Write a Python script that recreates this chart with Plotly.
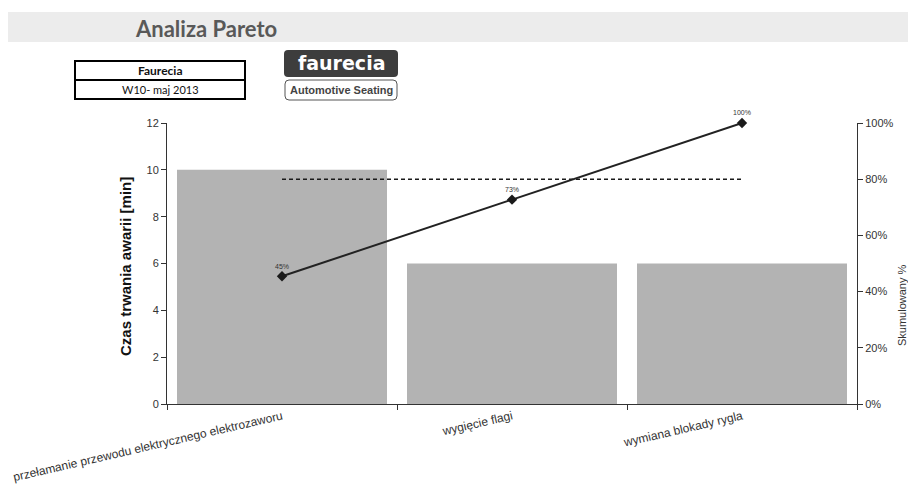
import plotly.graph_objects as go

# ---- data ----
categories = ["przełamanie przewodu elektrycznego elektrozaworu", "wygięcie flagi", "wymiana blokady rygla"]
durations = [10, 6, 6]
cum_pct = [0.4545, 0.7273, 1.0]
cum_labels = ["45%", "73%", "100%"]
threshold = [0.8, 0.8, 0.8]
y_ticks = [0, 2, 4, 6, 8, 10, 12]
y2_ticks = [0, 0.2, 0.4, 0.6, 0.8, 1.0]

W, H = 908, 498
L, R, T, B = 167, 857, 123, 404


def px(x):
    return (x - L) / (R - L)


def py(y):
    return (B - y) / (B - T)


def rrect(x0, y0, x1, y1, r):
    rx = r / (R - L)
    ry = r / (B - T)
    X0, X1 = px(x0), px(x1)
    Y0, Y1 = py(y0), py(y1)  # Y0 top (higher), Y1 bottom
    return (f"M {X0+rx},{Y0} L {X1-rx},{Y0} Q {X1},{Y0} {X1},{Y0-ry} "
            f"L {X1},{Y1+ry} Q {X1},{Y1} {X1-rx},{Y1} L {X0+rx},{Y1} "
            f"Q {X0},{Y1} {X0},{Y1+ry} L {X0},{Y0-ry} Q {X0},{Y0} {X0+rx},{Y0} Z")


fig = go.Figure()
fig.add_trace(go.Bar(x=categories, y=durations, marker=dict(color="#b3b3b3", line=dict(width=0)),
                     showlegend=False, hoverinfo="x+y"))
fig.add_trace(go.Scatter(x=categories, y=threshold, yaxis="y2", mode="lines",
                         line=dict(color="#1a1a1a", width=1.6, dash="4px,3px"), showlegend=False))
fig.add_trace(go.Scatter(x=categories, y=cum_pct, yaxis="y2", mode="lines+markers+text",
                         text=cum_labels, textposition="top center", cliponaxis=False,
                         textfont=dict(family="Liberation Sans", size=7, color="#333"),
                         line=dict(color="#222", width=2),
                         marker=dict(symbol="diamond", size=8, color="#1a1a1a"),
                         showlegend=False))

shapes = [
    # title band
    dict(type="rect", xref="paper", yref="paper", x0=px(8), x1=px(910), y0=py(42), y1=py(12),
         fillcolor="#ececec", line=dict(width=0), layer="below"),
    # info box
    dict(type="rect", xref="paper", yref="paper", x0=px(75), x1=px(245), y0=py(99), y1=py(61),
         fillcolor="white", line=dict(color="black", width=2)),
    dict(type="line", xref="paper", yref="paper", x0=px(75), x1=px(245), y0=py(80), y1=py(80),
         line=dict(color="black", width=2)),
    # logo
    dict(type="path", xref="paper", yref="paper", path=rrect(284, 50, 398, 77, 4),
         fillcolor="#3d3d3d", line=dict(width=0)),
    dict(type="path", xref="paper", yref="paper", path=rrect(285, 80, 397, 100, 4),
         fillcolor="white", line=dict(color="#555", width=1)),
]

annotations = [
    dict(text="<b>Analiza Pareto</b>", x=px(133), y=py(28), xref="paper", yref="paper",
         xanchor="left", yanchor="middle", showarrow=False,
         font=dict(family="Lato", size=22, color="#595959")),
    dict(text="<b>Faurecia</b>", x=px(160), y=py(70.5), xref="paper", yref="paper",
         xanchor="center", yanchor="middle", showarrow=False,
         font=dict(family="Lato", size=12, color="#111")),
    dict(text="W10- maj 2013", x=px(160), y=py(89.5), xref="paper", yref="paper",
         xanchor="center", yanchor="middle", showarrow=False,
         font=dict(family="Lato", size=11, color="#111")),
    dict(text="<b>faurecia</b>", x=px(341), y=py(63), xref="paper", yref="paper",
         xanchor="center", yanchor="middle", showarrow=False,
         font=dict(family="DejaVu Sans", size=19, color="white")),
    dict(text="<b>Automotive Seating</b>", x=px(341), y=py(90), xref="paper", yref="paper",
         xanchor="center", yanchor="middle", showarrow=False,
         font=dict(family="Liberation Sans", size=11, color="#444")),
    dict(text="<b>Czas trwania awarii [min]</b>", x=px(125), y=py(267), xref="paper", yref="paper",
         xanchor="center", yanchor="middle", showarrow=False, textangle=-90,
         font=dict(family="Liberation Sans", size=15, color="#111")),
    dict(text="Skumulowany %", x=px(902), y=py(305), xref="paper", yref="paper",
         xanchor="center", yanchor="middle", showarrow=False, textangle=-90,
         font=dict(family="Liberation Sans", size=11, color="#333")),
]

fig.update_layout(
    width=W, height=H,
    margin=dict(l=L, r=W - R, t=T, b=H - B, pad=0),
    paper_bgcolor="white", plot_bgcolor="white",
    bargap=0.087,
    shapes=shapes, annotations=annotations,
    xaxis=dict(type="category", tickson="boundaries", ticks="outside", ticklen=5,
               tickcolor="#333", showline=True, linecolor="#333", linewidth=1,
               tickangle=-13, tickfont=dict(family="Liberation Sans", size=12, color="#333"),
               showgrid=False, zeroline=False),
    yaxis=dict(range=[0, 12], tickvals=y_ticks, ticks="outside", ticklen=5, tickcolor="#333",
               showline=True, linecolor="#333", linewidth=1, showgrid=False, zeroline=False,
               tickfont=dict(family="Liberation Sans", size=11, color="#333")),
    yaxis2=dict(range=[0, 1], tickvals=y2_ticks, tickformat=".0%", overlaying="y", side="right",
                ticks="outside", ticklen=5, tickcolor="#333", showline=True, linecolor="#333",
                linewidth=1, showgrid=False, zeroline=False,
                tickfont=dict(family="Liberation Sans", size=11, color="#333")),
)

fig.write_html("out.html")
